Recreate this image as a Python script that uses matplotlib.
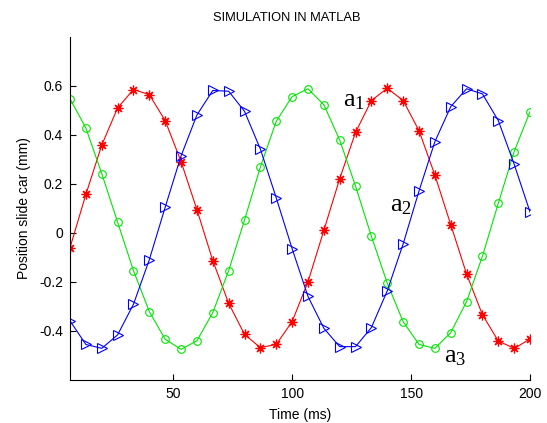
import numpy as np
import matplotlib
matplotlib.use("Agg")
import matplotlib.pyplot as plt

# sample times (ms)
time_ms = np.linspace(6.67, 200, 30)

a1_red = [-0.06, 0.157, 0.358, 0.51, 0.585, 0.564, 0.458, 0.291, 0.095, -0.113,
          -0.287, -0.414, -0.468, -0.455, -0.362, -0.2, 0.01, 0.221, 0.41, 0.54,
          0.59, 0.54, 0.417, 0.236, 0.034, -0.168, -0.334, -0.441, -0.471, -0.433]
a3_green = [0.547, 0.428, 0.242, 0.044, -0.154, -0.321, -0.434, -0.475, -0.44, -0.325,
            -0.154, 0.052, 0.269, 0.455, 0.556, 0.588, 0.523, 0.379, 0.191, -0.014,
            -0.205, -0.362, -0.455, -0.471, -0.407, -0.28, -0.095, 0.121, 0.332, 0.495]
a2_blue = [-0.359, -0.455, -0.471, -0.416, -0.291, -0.109, 0.105, 0.314, 0.481, 0.581,
           0.578, 0.496, 0.342, 0.143, -0.064, -0.259, -0.389, -0.464, -0.464, -0.386,
           -0.236, -0.045, 0.171, 0.372, 0.515, 0.588, 0.567, 0.458, 0.28, 0.085]

x_ticks = [50, 100, 150, 200]
y_ticks = [-0.4, -0.2, 0, 0.2, 0.4, 0.6]
y_tick_labels = ["-0.4", "-0.2", "0", "0.2", "0.4", "0.6"]

plt.rcParams["font.family"] = ["Liberation Sans", "DejaVu Sans"]

fig = plt.figure(figsize=(5.47, 4.23), dpi=100)
ax = fig.add_axes([0.128, 0.1017, 0.841, 0.8113])

# MATLAB-style asterisk: + and x overlaid
ax.plot(time_ms, a1_red, color="#ff0000", linewidth=0.8, marker=(8, 2, 0),
        markersize=7, markeredgewidth=0.9)
ax.plot(time_ms, a3_green, color="#00e600", linewidth=0.8, marker="o",
        markersize=5.5, markerfacecolor="none", markeredgewidth=0.8)
ax.plot(time_ms, a2_blue, color="#0000ff", linewidth=0.8, marker=">",
        markersize=6.5, markerfacecolor="none", markeredgewidth=0.8)

serif = ["Liberation Serif", "DejaVu Serif"]
ax.text(121.5, 0.515, r"a$\mathregular{_1}$", fontsize=19, family=serif,
        va="baseline", ha="left")
ax.text(141.3, 0.089, r"a$\mathregular{_2}$", fontsize=19, family=serif,
        va="baseline", ha="left")
ax.text(163.9, -0.529, r"a$\mathregular{_3}$", fontsize=19, family=serif,
        va="baseline", ha="left")

ax.set_xlim(6.67, 200)
ax.set_ylim(-0.6, 0.8)
ax.set_xticks(x_ticks)
ax.set_yticks(y_ticks)
ax.set_yticklabels(y_tick_labels)
ax.tick_params(direction="in", length=4, width=0.8, labelsize=10, pad=5)
ax.spines["top"].set_visible(False)
ax.spines["right"].set_visible(False)
ax.set_xlabel("Time (ms)", fontsize=10, labelpad=5)
ax.set_ylabel("Position slide car (mm)", fontsize=10, labelpad=6)
fig.text(0.525, 0.957, "SIMULATION IN MATLAB", fontsize=9.3, ha="center", va="center")

fig.savefig("out.png", dpi=100)
